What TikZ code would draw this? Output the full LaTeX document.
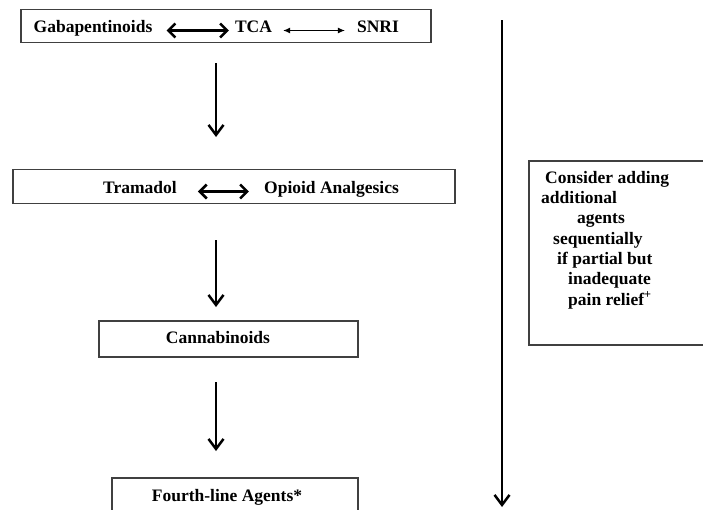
\documentclass[tikz,border=0pt]{standalone}
\usepackage{fontspec}
\setmainfont{Liberation Serif}
\usetikzlibrary{arrows.meta,calc}

\begin{document}
\begin{tikzpicture}[x=1pt,y=-1pt,
  box/.style={draw=black!75,line width=1.5pt,inner sep=0pt},
  lbl/.style={font=\fontsize{17.5}{20.3}\selectfont\bfseries,inner sep=0pt,anchor=base},
  down/.style={-{Straight Barb[length=10pt,width=15pt]},line width=2.5pt},
  both/.style={{Straight Barb[length=7pt,width=14pt]}-{Straight Barb[length=7pt,width=14pt]},line width=2.5pt},
  thinboth/.style={{Latex[length=7pt,width=6pt]}-{Latex[length=7pt,width=6pt]},line width=1pt}]
  \useasboundingbox (0,0) rectangle (703,509);
  % first line
  \node[box,minimum width=410,minimum height=33] (first) at (226,26) {};
  \node[lbl] (gaba) at (93,32) {Gabapentinoids};
  \node[lbl] (tca) at (253.5,32) {TCA};
  \node[lbl] (snri) at (378,32) {SNRI};
  \draw[both] ($(gaba.base east)+(14,-1.5)$) -- ($(tca.base west)+(-6,-1.5)$);
  \draw[thinboth] ($(tca.base east)+(11,-1.5)$) -- ($(snri.base west)+(-12,-1.5)$);
  % second line
  \node[box,minimum width=442,minimum height=34] (second) at (234,186.5) {};
  \node[lbl] (tram) at (140,193) {Tramadol};
  \node[lbl] (opio) at (331.5,193) {Opioid Analgesics};
  \draw[both] ($(tram.base east)+(21,-1.5)$) -- ($(opio.base west)+(-15,-1.5)$);
  % third and fourth line
  \node[box,minimum width=259,minimum height=36] (third) at (228.5,339) {};
  \node[lbl] (canna) at (218,343) {Cannabinoids};
  \node[box,minimum width=246,minimum height=36] (fourth) at (235,496) {};
  \node[lbl] (agents) at (227,501) {Fourth-line Agents*};
  % downward arrows
  \coordinate (d1a) at (216,63);
  \coordinate (d1b) at (216,137);
  \coordinate (d2a) at (216,240);
  \coordinate (d2b) at (216,307);
  \coordinate (d3a) at (216,382);
  \coordinate (d3b) at (216,451);
  \draw[down] (d1a) -- (d1b);
  \draw[down] (d2a) -- (d2b);
  \draw[down] (d3a) -- (d3b);
  % right side
  \coordinate (ltop) at (502,20);
  \coordinate (lbot) at (502,507);
  \draw[down] (ltop) -- (lbot);
  \node[box,minimum width=190,minimum height=184,anchor=north west] (note) at (528,160) {};
  \node[lbl,anchor=north west,align=left] (notetext) at (541,171) {%
    \hspace*{4pt}Consider adding\\
    additional\\
    \hspace*{36pt}agents\\
    \hspace*{12pt}sequentially\\
    \hspace*{16pt}if partial but\\
    \hspace*{27pt}inadequate\\
    \hspace*{27pt}pain relief\textsuperscript{+}};
\end{tikzpicture}
\end{document}
